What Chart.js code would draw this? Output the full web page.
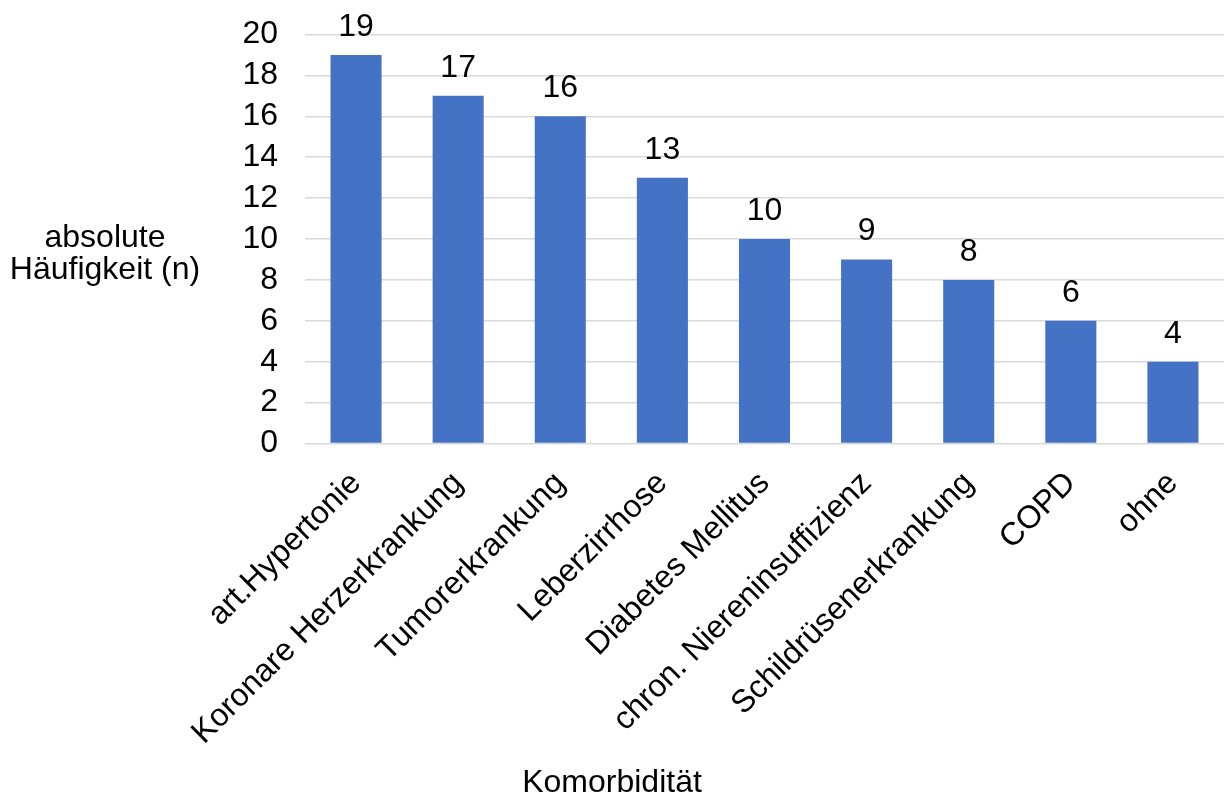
<!DOCTYPE html>
<html>
<head>
<meta charset="utf-8">
<script src="https://cdn.jsdelivr.net/npm/chart.js@4/dist/chart.umd.min.js"></script>
<style>
  html, body { margin: 0; padding: 0; background: #ffffff; }
  #wrap { width: 1224px; height: 796px; }
</style>
</head>
<body>
<div id="wrap"><canvas id="chart" width="1224" height="796"></canvas></div>
<script>
// Komorbiditäten, absolute Häufigkeit
const categories = [
  'art.Hypertonie',
  'Koronare Herzerkrankung',
  'Tumorerkrankung',
  'Leberzirrhose',
  'Diabetes Mellitus',
  'chron. Niereninsuffizienz',
  'Schildrüsenerkrankung',
  'COPD',
  'ohne'
];
const counts = [19, 17, 16, 13, 10, 9, 8, 6, 4];
const yTitleLines = ['absolute', 'Häufigkeit (n)'];
const xTitle = 'Komorbidität';

const FONT = '"Liberation Sans", Arial, sans-serif';
const FONT_SIZE = 32;
const BAR_COLOR = '#4472C4';
const GRID_COLOR = '#D9D9D9';
const TITLE_H = 26;

// numbers above each bar
const valueLabels = {
  id: 'valueLabels',
  afterDatasetsDraw(chart) {
    const ctx = chart.ctx;
    const meta = chart.getDatasetMeta(0);
    ctx.save();
    ctx.font = FONT_SIZE + 'px ' + FONT;
    ctx.fillStyle = '#000';
    ctx.textAlign = 'center';
    ctx.textBaseline = 'alphabetic';
    meta.data.forEach((bar, i) => {
      ctx.fillText(String(counts[i]), bar.x, bar.y - 19);
    });
    ctx.restore();
  }
};

// horizontal, two-line title left of the value axis
const yAxisTitle = {
  id: 'yAxisTitle',
  afterDraw(chart) {
    const ctx = chart.ctx;
    ctx.save();
    ctx.font = FONT_SIZE + 'px ' + FONT;
    ctx.fillStyle = '#000';
    ctx.textAlign = 'center';
    ctx.textBaseline = 'alphabetic';
    yTitleLines.forEach((line, i) => {
      ctx.fillText(line, 105, 247 + i * 32);
    });
    ctx.restore();
  }
};

new Chart(document.getElementById('chart'), {
  type: 'bar',
  data: {
    labels: categories,
    datasets: [{
      data: counts,
      backgroundColor: BAR_COLOR,
      borderWidth: 0,
      barPercentage: 0.5,
      categoryPercentage: 1.0
    }]
  },
  options: {
    responsive: false,
    animation: false,
    devicePixelRatio: 1,
    layout: { padding: { top: 34.5, left: 0, right: 0, bottom: 0 } },
    plugins: {
      legend: { display: false },
      tooltip: { enabled: false },
      title: {
        display: true,
        position: 'bottom',
        text: xTitle,
        color: '#000',
        font: { family: FONT, size: FONT_SIZE, weight: 'normal', lineHeight: TITLE_H / FONT_SIZE },
        padding: 0
      }
    },
    scales: {
      x: {
        grid: { display: false },
        border: { display: false },
        ticks: {
          color: '#000',
          font: { family: FONT, size: FONT_SIZE },
          minRotation: 45,
          maxRotation: 45,
          autoSkip: false,
          padding: 13
        },
        afterFit(scale) { scale.height = 796 - TITLE_H - 443.5; }
      },
      y: {
        min: 0,
        max: 20,
        grid: { color: GRID_COLOR, lineWidth: 1.5, drawTicks: false },
        border: { display: false },
        ticks: {
          stepSize: 2,
          autoSkip: false,
          color: '#000',
          font: { family: FONT, size: FONT_SIZE },
          padding: 27
        },
        afterFit(scale) {
          scale.width = 305;
          scale.paddingTop = 10;
          scale.paddingBottom = 10;
        }
      }
    }
  },
  plugins: [valueLabels, yAxisTitle]
});
</script>
</body>
</html>
